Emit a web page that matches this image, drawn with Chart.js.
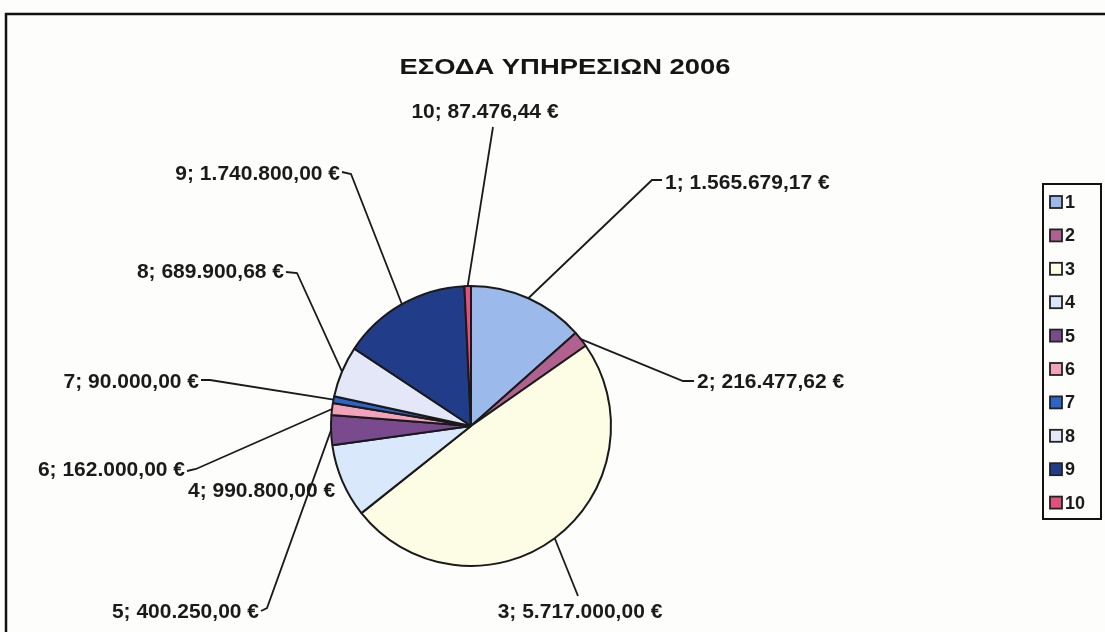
<!DOCTYPE html>
<html>
<head>
<meta charset="utf-8">
<script src="https://cdn.jsdelivr.net/npm/chart.js@4.4.0/dist/chart.umd.min.js"></script>
<style>
  html, body { margin: 0; padding: 0; background: #fdfdfc; }
  canvas { display: block; }
</style>
</head>
<body>
<canvas id="pieChart" width="1105" height="632"></canvas>
<script>
const chartTitle = "ΕΣΟΔΑ ΥΠΗΡΕΣΙΩΝ 2006";
const categories = ["1", "2", "3", "4", "5", "6", "7", "8", "9", "10"];
const revenues = [1565679.17, 216477.62, 5717000.00, 990800.00, 400250.00, 162000.00, 90000.00, 689900.68, 1740800.00, 87476.44];
const sliceColors = ["#9cb9ec", "#b0618f", "#fdfde6", "#d9e8fa", "#7a4a8f", "#f2a2b9", "#2b65c8", "#e3e7f8", "#213d8a", "#e0527d"];

// where each data label sits and the short hook of its leader line (layout only)
const labelPlaces = [
    { x: 665, y: 183, align: "left",   hook: [[662, 180], [652, 180]] },
    { x: 697, y: 382, align: "left",   hook: [[694, 381], [683, 381]] },
    { x: 580, y: 612, align: "center", hook: [[578, 596]] },
    { x: 188, y: 491, align: "left",   hook: null },
    { x: 259, y: 612, align: "right",  hook: [[261, 611], [267, 608]] },
    { x: 185, y: 470, align: "right",  hook: [[187, 471], [196, 469]] },
    { x: 199, y: 382, align: "right",  hook: [[201, 380], [210, 380]] },
    { x: 284, y: 272, align: "right",  hook: [[286, 272], [297, 273]] },
    { x: 340, y: 174, align: "right",  hook: [[342, 172], [351, 174]] },
    { x: 485, y: 112, align: "center", hook: [[493, 127]] }
];

function formatEuro(v) {
    let parts = v.toFixed(2).split(".");
    let intPart = parts[0].replace(/\B(?=(\d{3})+(?!\d))/g, ".");
    return intPart + "," + parts[1] + " €";
}

function drawStretched(ctx, text, x, y, align, sx) {
    let w = ctx.measureText(text).width * sx;
    let left = align === "left" ? x : align === "right" ? x - w : x - w / 2;
    ctx.save();
    ctx.translate(left, y);
    ctx.scale(sx, 1);
    ctx.textAlign = "left";
    ctx.fillText(text, 0, 0);
    ctx.restore();
}

const framePlugin = {
    id: "frame",
    beforeDraw(chart) {
        let ctx = chart.ctx;
        ctx.save();
        ctx.fillStyle = "#fdfdfc";
        ctx.fillRect(0, 0, chart.width, chart.height);
        ctx.strokeStyle = "#111";
        ctx.lineWidth = 2.5;
        ctx.beginPath();
        ctx.moveTo(6, chart.height);
        ctx.lineTo(6, 14);
        ctx.lineTo(chart.width, 14);
        ctx.stroke();

        // title
        ctx.fillStyle = "#151515";
        ctx.font = "bold 22px 'Liberation Sans', Arial, sans-serif";
        ctx.textBaseline = "middle";
        let tw = ctx.measureText(chartTitle).width;
        drawStretched(ctx, chartTitle, 565, 68, "center", 331 / tw);
        ctx.restore();
    }
};

const labelPlugin = {
    id: "sliceLabels",
    afterDatasetsDraw(chart) {
        let ctx = chart.ctx;
        let meta = chart.getDatasetMeta(0);
        ctx.save();
        ctx.strokeStyle = "#1a1a1a";
        ctx.lineWidth = 1.8;
        ctx.fillStyle = "#1a1a1a";
        ctx.font = "bold 20px 'Liberation Sans', Arial, sans-serif";
        ctx.textBaseline = "middle";
        meta.data.forEach((arc, i) => {
            let p = labelPlaces[i];
            let a = arc.getProps(["x", "y", "startAngle", "endAngle", "outerRadius"], true);
            let mid = (a.startAngle + a.endAngle) / 2;
            let ex = a.x + Math.cos(mid) * a.outerRadius;
            let ey = a.y + Math.sin(mid) * a.outerRadius;
            if (p.hook) {
                ctx.beginPath();
                ctx.moveTo(p.hook[0][0], p.hook[0][1]);
                p.hook.slice(1).forEach(pt => ctx.lineTo(pt[0], pt[1]));
                ctx.lineTo(ex, ey);
                ctx.stroke();
            }
            let text = categories[i] + "; " + formatEuro(revenues[i]);
            drawStretched(ctx, text, p.x, p.y, p.align, 1.05);
        });

        // legend box
        ctx.lineWidth = 2;
        ctx.strokeStyle = "#111";
        ctx.strokeRect(1043, 184, 58, 335);
        ctx.font = "bold 18px 'Liberation Sans', Arial, sans-serif";
        ctx.textAlign = "left";
        categories.forEach((c, i) => {
            let y = 202 + i * 33.4;
            ctx.fillStyle = sliceColors[i];
            ctx.fillRect(1050, y - 6, 12, 12);
            ctx.lineWidth = 1.8;
            ctx.strokeStyle = "#222";
            ctx.strokeRect(1050, y - 6, 12, 12);
            ctx.fillStyle = "#1a1a1a";
            ctx.fillText(c, 1065, y + 1);
        });
        ctx.restore();
    }
};

let ctx = document.getElementById("pieChart").getContext("2d");
let chartInstance = new Chart(ctx, {
    type: "pie",
    data: {
        labels: categories,
        datasets: [{
            data: revenues,
            backgroundColor: sliceColors,
            borderColor: "#1a1a1a",
            borderWidth: 2,
            hoverOffset: 0
        }]
    },
    options: {
        responsive: false,
        animation: false,
        layout: { padding: { left: 330, top: 285, right: 493, bottom: 65 } },
        plugins: {
            legend: { display: false },
            tooltip: { enabled: false },
            title: { display: false }
        }
    },
    plugins: [framePlugin, labelPlugin]
});
</script>
</body>
</html>
